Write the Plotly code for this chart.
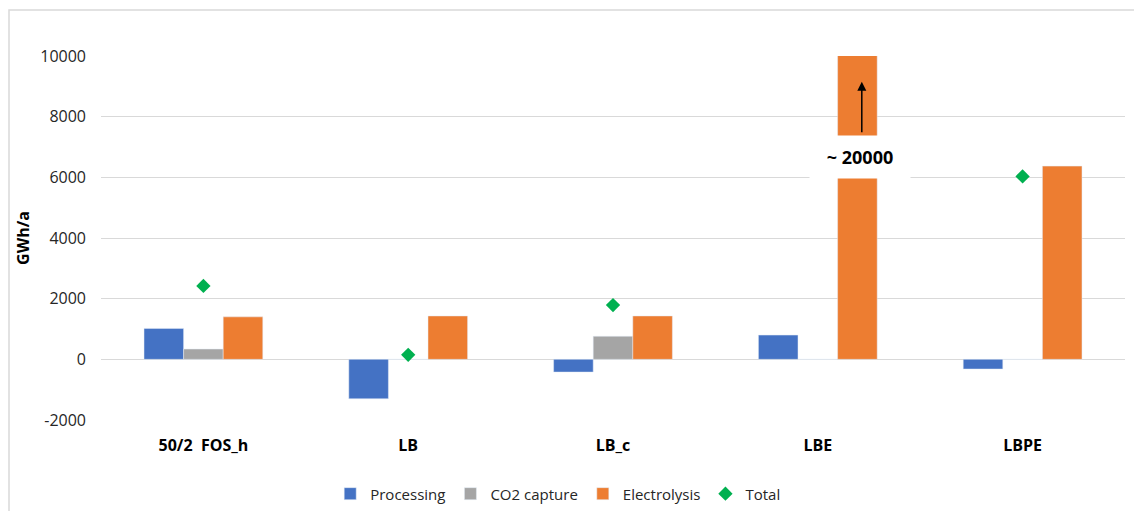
import plotly.graph_objects as go

categories = ["50/2  FOS_h", "LB", "LB_c", "LBE", "LBPE"]
processing = [1020, -1300, -420, 800, -320]
co2_capture = [340, 0, 760, 0, 0]
electrolysis = [1400, 1430, 1430, 20000, 6370]
total = [2420, 150, 1790, 20800, 6030]

y_tick_vals = [-2000, 0, 2000, 4000, 6000, 8000, 10000]
y_tick_text = ["-2000", "0", "2000", "4000", "6000", "8000", "10000"]

fig = go.Figure()
fig.add_trace(go.Bar(x=categories, y=processing, name="Processing", marker_color="#4472C4"))
fig.add_trace(go.Bar(x=categories, y=co2_capture, name="CO2 capture", marker_color="#A5A5A5"))
fig.add_trace(go.Bar(x=categories, y=electrolysis, name="Electrolysis", marker_color="#ED7D31"))
fig.add_trace(go.Scatter(x=categories, y=total, name="Total", mode="markers",
                         marker=dict(symbol="diamond", size=11, color="#00B050")))

# arrow + label marking the clipped LBE electrolysis bar
fig.add_annotation(x="LBE", y=9150, xshift=44, ax=0, ay=52, text="",
                   showarrow=True, arrowhead=2, arrowsize=1.2, arrowwidth=1.5, arrowcolor="black")
fig.add_annotation(x="LBE", y=6660, xshift=42, text="<b>~ 20000</b>", showarrow=False,
                   bgcolor="white", width=98, height=40, font=dict(size=18, color="black"))

# outer chart border
fig.add_shape(type="rect", xref="paper", yref="paper",
              x0=-92 / 1024, x1=1 + 16 / 1024, y0=-100 / 364, y1=1 + 46 / 364,
              line=dict(color="#D9D9D9", width=1.5), layer="below")

fig.update_layout(
    width=1134, height=503,
    margin=dict(l=93, r=17, t=48, b=91, autoexpand=False),
    paper_bgcolor="white", plot_bgcolor="white",
    font=dict(family="Open Sans", size=15, color="#262626"),
    barmode="group", bargap=0.42, bargroupgap=0,
    showlegend=True,
    legend=dict(orientation="h", x=0.446, xanchor="center", y=-0.203, yanchor="middle",
                font=dict(size=15), traceorder="normal"),
)
fig.update_yaxes(range=[-2000, 10000], tickvals=y_tick_vals, ticktext=y_tick_text,
                 showgrid=True, gridcolor="#D9D9D9", gridwidth=1,
                 zeroline=True, zerolinecolor="#D9D9D9", zerolinewidth=1,
                 showline=False, ticks="", ticklabelstandoff=14,
                 title=dict(text="<b>GWh/a</b>", font=dict(size=16, color="black"), standoff=6),
                 tickfont=dict(size=16))
fig.update_xaxes(showline=False, ticks="", tickfont=dict(size=16, color="black"),
                 tickprefix="<b>", ticksuffix="</b>", ticklabelstandoff=14)

fig.write_html("out.html")
